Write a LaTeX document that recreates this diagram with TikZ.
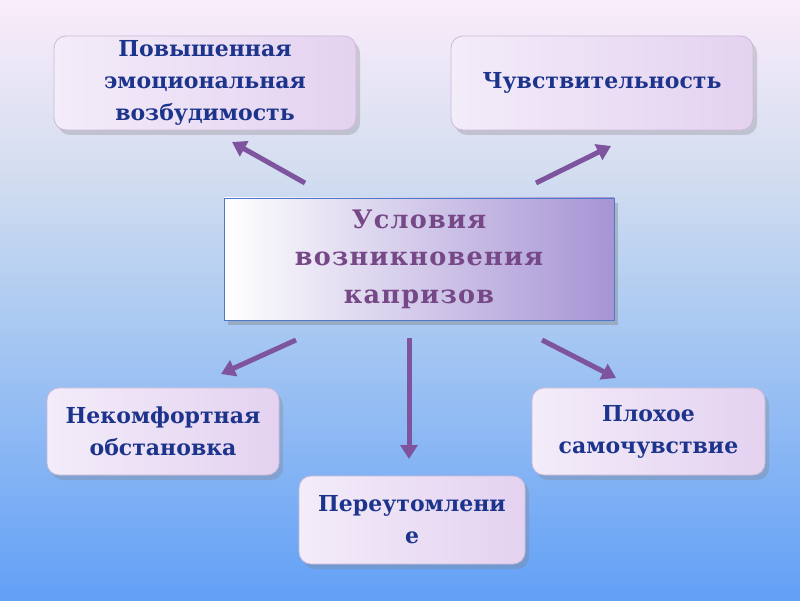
\documentclass[tikz,border=0pt]{standalone}
\usepackage{fontspec}
\newfontfamily\boxfont{DejaVu Serif}
\newfontfamily\centerfont[LetterSpace=5]{DejaVu Serif}
\usetikzlibrary{arrows.meta,shadows}
\definecolor{bgtop}{RGB}{250,236,250}
\definecolor{bgup}{RGB}{212,222,240}
\definecolor{bgmid}{RGB}{168,200,242}
\definecolor{bgbot}{RGB}{98,160,246}
\definecolor{txtblue}{RGB}{28,52,140}
\definecolor{txtpurple}{RGB}{118,72,136}
\definecolor{arrpurple}{RGB}{126,84,158}
\definecolor{boxl}{RGB}{243,236,249}
\definecolor{boxr}{RGB}{228,210,240}
\definecolor{boxedge}{RGB}{205,185,215}
\definecolor{cright}{RGB}{166,148,212}
\definecolor{cedge}{RGB}{80,120,200}
\pgfdeclareverticalshading{bgshade}{100bp}{color(0bp)=(bgbot); color(25bp)=(bgbot); color(47.5bp)=(bgmid); color(61bp)=(bgup); color(75bp)=(bgtop); color(100bp)=(bgtop)}
\tikzset{
  outbox/.style={draw=boxedge, line width=0.8pt, rounded corners=12pt, left color=boxl, right color=boxr,
    align=center, font=\boxfont\bfseries\fontsize{22}{32}\selectfont, text=txtblue,
    drop shadow={shadow xshift=4pt, shadow yshift=-5pt, opacity=0.3}, inner sep=0pt},
  centerbox/.style={draw=cedge, line width=0.8pt, left color=white, right color=cright,
    align=center, font=\centerfont\bfseries\fontsize{25.5}{37.5}\selectfont, text=txtpurple,
    drop shadow={shadow xshift=4pt, shadow yshift=-5pt, opacity=0.4}, inner sep=0pt},
  arr/.style={draw=arrpurple, line width=5pt, -{Triangle[length=14pt,width=17pt]}}
}
\begin{document}
\begin{tikzpicture}[x=1pt,y=1pt]
\shade[shading=bgshade] (0,0) rectangle (800,600);
\useasboundingbox (0,0) rectangle (800,600);

\node[outbox, minimum width=302pt, minimum height=94pt] (tl) at (205,517) {Повышенная\\эмоциональная\\возбудимость};
\node[outbox, minimum width=302pt, minimum height=94pt] (tr) at (602,517) {Чувствительность};
\node[centerbox, minimum width=390pt, minimum height=122pt] (c) at (419,341) {Условия\\возникновения\\капризов};
\node[outbox, minimum width=232pt, minimum height=87pt] (bl) at (163,168.5) {Некомфортная\\обстановка};
\node[outbox, minimum width=233pt, minimum height=87pt] (br) at (648.5,168.5) {Плохое\\самочувствие};
\node[outbox, minimum width=226pt, minimum height=88pt] (b) at (412,80) {Переутомлени\\е};

\coordinate (s1) at (305,417); \coordinate (e1) at (232,458);
\coordinate (s2) at (536,417); \coordinate (e2) at (611,454);
\coordinate (s3) at (296,260); \coordinate (e3) at (221,226);
\coordinate (s4) at (409,262); \coordinate (e4) at (409,141);
\coordinate (s5) at (542,260); \coordinate (e5) at (616,222);

\draw[arr] (s1) -- (e1);
\draw[arr] (s2) -- (e2);
\draw[arr] (s3) -- (e3);
\draw[arr] (s4) -- (e4);
\draw[arr] (s5) -- (e5);
\end{tikzpicture}
\end{document}
